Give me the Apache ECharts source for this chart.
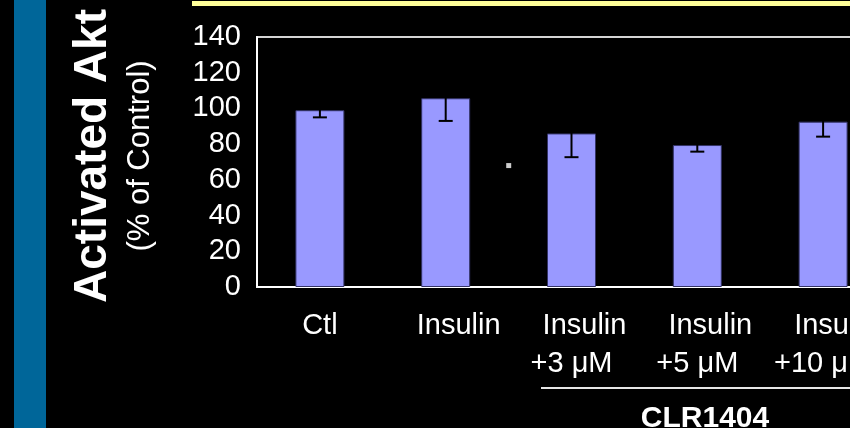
<!DOCTYPE html>
<html>
<head>
<meta charset="utf-8">
<script src="https://cdn.jsdelivr.net/npm/echarts@6/dist/echarts.min.js"></script>
<style>
  html, body { margin: 0; padding: 0; background: #000; }
  #chart { width: 850px; height: 428px; }
</style>
</head>
<body>
<div id="chart"></div>
<script>
// data
const categories = ['Ctl', 'Insulin', 'Insulin\n+3 μM', 'Insulin\n+5 μM', 'Insulin\n+10 μM'];
const aktValues = [99, 105.7, 86, 79.5, 92.6];
const aktErrors = [4, 12.7, 13.3, 3.7, 8.4];
const strayDot = [[1, 68]];
const yMin = 0, yMax = 140, yStep = 20;

const FONT = "'Liberation Sans', Arial, sans-serif";

const chart = echarts.init(document.getElementById('chart'));

// error bars: stem + caps, black like the original (upper half disappears on the black bg)
function renderError(params, api) {
  const i = api.value(0);
  const v = api.value(1);
  const e = api.value(2);
  const hi = api.coord([i, v + e]);
  const lo = api.coord([i, v - e]);
  const cap = 7;
  const style = { stroke: '#000', lineWidth: 2 };
  return {
    type: 'group',
    children: [
      { type: 'line', shape: { x1: hi[0], y1: hi[1], x2: lo[0], y2: lo[1] }, style: style },
      { type: 'line', shape: { x1: hi[0] - cap, y1: hi[1], x2: hi[0] + cap, y2: hi[1] }, style: style },
      { type: 'line', shape: { x1: lo[0] - cap, y1: lo[1], x2: lo[0] + cap, y2: lo[1] }, style: style }
    ]
  };
}

const option = {
  backgroundColor: '#000',
  animation: false,
  textStyle: { fontFamily: FONT },
  grid: {
    left: 257,
    top: 37,
    height: 250,
    width: 629,   // runs off the right edge, as the slide is cropped
    outerBoundsMode: 'none',
    show: true,
    borderColor: '#d4d4d4',
    borderWidth: 2,
    backgroundColor: 'transparent'
  },
  xAxis: {
    type: 'category',
    data: categories,
    axisLine: { lineStyle: { color: '#fff', width: 2 } },
    axisTick: { show: false },
    axisLabel: {
      margin: 20,
      interval: 0,
      hideOverlap: false,
      formatter: function (v) {
        return v.split('\n').map(function (s) {
          return s.indexOf('Insulin') === 0 ? '{ins|' + s + '}' : '{n|' + s + '}';
        }).join('\n');
      },
      rich: {
        ins: { color: '#fff', fontSize: 29, lineHeight: 38, fontFamily: FONT, padding: [0, 0, 0, 26] },
        n: { color: '#fff', fontSize: 29, lineHeight: 38, fontFamily: FONT }
      }
    }
  },
  yAxis: {
    type: 'value',
    min: yMin,
    max: yMax,
    interval: yStep,
    axisLine: { show: true, lineStyle: { color: '#fff', width: 2 } },
    axisTick: { show: false },
    splitLine: { show: false },
    axisLabel: { color: '#fff', fontSize: 29, margin: 16, fontFamily: FONT }
  },
  graphic: [
    // blue strip on the left of the slide
    { type: 'rect', shape: { x: 14, y: 0, width: 32, height: 428 }, style: { fill: '#006699' }, silent: true },
    // yellow rule at the top
    { type: 'rect', shape: { x: 192, y: 1, width: 660, height: 5 }, style: { fill: '#ffff99' }, silent: true },
    {
      type: 'text', x: 93, y: 156, rotation: Math.PI / 2,
      style: { text: 'Activated Akt', fill: '#fff', font: 'bold 46px ' + FONT, textAlign: 'center', textVerticalAlign: 'middle' }
    },
    {
      type: 'text', x: 140, y: 156, rotation: Math.PI / 2,
      style: { text: '(% of Control)', fill: '#fff', font: '31px ' + FONT, textAlign: 'center', textVerticalAlign: 'middle' }
    },
    // CLR1404 bracket
    { type: 'rect', shape: { x: 541, y: 387, width: 320, height: 2 }, style: { fill: '#e6e6e6' }, silent: true },
    {
      type: 'text', x: 705, y: 419,
      style: { text: 'CLR1404', fill: '#fff', font: 'bold 30px ' + FONT, textAlign: 'center', textVerticalAlign: 'middle' }
    }
  ],
  series: [
    {
      type: 'bar',
      data: aktValues,
      barWidth: 49,
      itemStyle: { color: '#9999ff', borderColor: '#333366', borderWidth: 1 }
    },
    {
      type: 'custom',
      renderItem: renderError,
      data: aktValues.map(function (v, i) { return [i, v, aktErrors[i]]; }),
      z: 5
    },
    {
      type: 'scatter',
      data: strayDot,
      symbol: 'rect',
      symbolSize: 5,
      symbolOffset: [63, 0],
      itemStyle: { color: '#fff' },
      z: 6
    }
  ]
};

chart.setOption(option);
</script>
</body>
</html>
